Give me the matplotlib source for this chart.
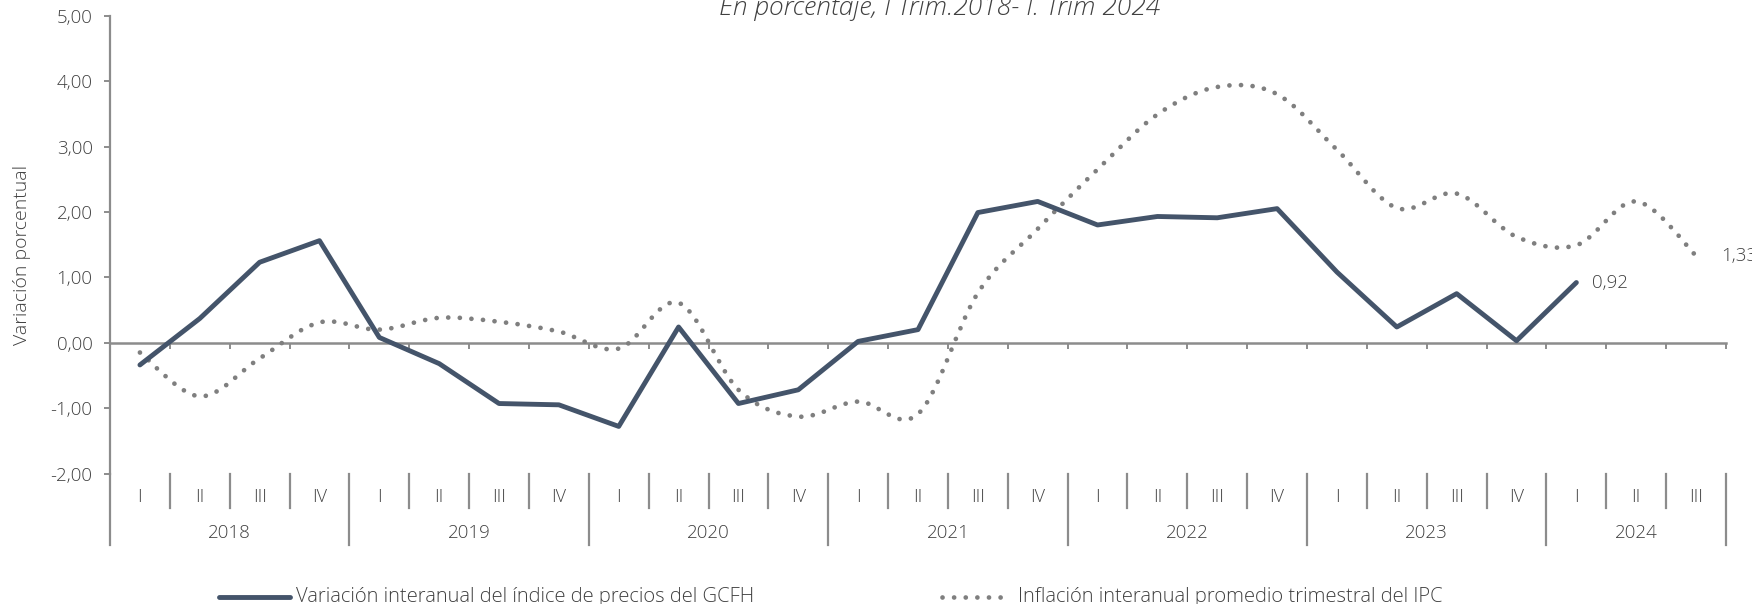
import matplotlib
matplotlib.use("Agg")
import matplotlib.pyplot as plt
import numpy as np
from matplotlib.path import Path
from matplotlib.patches import PathPatch
from matplotlib.lines import Line2D
import matplotlib.transforms as mtransforms
from matplotlib.ticker import FuncFormatter

plt.rcParams['font.family'] = ['Open Sans', 'DejaVu Sans']
plt.rcParams['font.weight'] = 'light'

quarters = ["I", "II", "III", "IV"] * 6 + ["I", "II", "III"]
years = ["2018", "2019", "2020", "2021", "2022", "2023", "2024"]
gcfh = [-0.34, 0.37, 1.23, 1.56, 0.08, -0.32, -0.93, -0.95,
        -1.28, 0.24, -0.93, -0.72, 0.02, 0.20, 1.99, 2.16,
        1.80, 1.93, 1.91, 2.05, 1.08, 0.24, 0.75, 0.03, 0.92]
ipc = [-0.15, -0.82, -0.24, 0.31, 0.20, 0.38, 0.32, 0.17,
       -0.09, 0.61, -0.72, -1.13, -0.90, -1.09, 0.76, 1.74,
       2.65, 3.49, 3.91, 3.80, 2.95, 2.06, 2.28, 1.62, 1.49, 2.16, 1.33]
label_gcfh = "Variación interanual del índice de precios del GCFH"
label_ipc = "Inflación interanual promedio trimestral del IPC"
title = "En porcentaje, I Trim.2018- I. Trim 2024"
ylabel = "Variación porcentual"

W, H = 1752, 604
fig = plt.figure(figsize=(W / 100, H / 100), dpi=100)
fig.patch.set_facecolor("white")

def fy(py):
    return 1 - py / H

def fx(px):
    return px / W

ax = fig.add_axes([fx(110), fy(473.5), fx(1726) - fx(110), fy(15.7) - fy(473.5)])
n = len(quarters)
ax.set_xlim(-0.5, n - 0.5)
ax.set_ylim(-2, 5)

C_SOLID = "#44546A"
C_DOT = "#7F7F7F"
C_AX = "#8C8C8C"
TXT = "#404040"

# solid line
xs = np.arange(len(gcfh))
ax.plot(xs, gcfh, color=C_SOLID, lw=3.5, solid_joinstyle="round",
        solid_capstyle="round", zorder=4, clip_on=False)

# smoothed dotted line (Bezier through data points)
xi = np.arange(len(ipc), dtype=float)
yi = np.array(ipc, dtype=float)
verts = [(xi[0], yi[0])]
codes = [Path.MOVETO]
m = len(xi)
for i in range(m - 1):
    p0 = np.array([xi[max(i - 1, 0)], yi[max(i - 1, 0)]])
    p1 = np.array([xi[i], yi[i]])
    p2 = np.array([xi[i + 1], yi[i + 1]])
    p3 = np.array([xi[min(i + 2, m - 1)], yi[min(i + 2, m - 1)]])
    c1 = p1 + (p2 - p0) / 6.0
    c2 = p2 - (p3 - p1) / 6.0
    verts += [tuple(c1), tuple(c2), tuple(p2)]
    codes += [Path.CURVE4] * 3
DOTSTYLE = (0, (0.01, 2.45))
patch = PathPatch(Path(verts, codes), fill=False, edgecolor=C_DOT, lw=3.4,
                  linestyle=DOTSTYLE, capstyle="round", zorder=3)
ax.add_patch(patch)

# data labels
ax.annotate("{:.2f}".format(gcfh[-1]).replace(".", ","), xy=(len(gcfh) - 1, gcfh[-1]),
            xytext=(16, 0), textcoords="offset pixels", ha="left", va="center",
            fontsize=13.5, color=TXT)
ax.annotate("{:.2f}".format(ipc[-1]).replace(".", ","), xy=(len(ipc) - 1, ipc[-1]),
            xytext=(25, 0), textcoords="offset pixels", ha="left", va="center",
            fontsize=13.5, color=TXT, annotation_clip=False)

# axes styling
for s in ["top", "right"]:
    ax.spines[s].set_visible(False)
ax.spines["left"].set_color(C_AX)
ax.spines["left"].set_linewidth(1.6)
ax.spines["bottom"].set_position(("data", 0))
ax.spines["bottom"].set_color(C_AX)
ax.spines["bottom"].set_linewidth(1.8)
ax.set_yticks(np.arange(-2, 6, 1))
ax.yaxis.set_major_formatter(FuncFormatter(lambda v, p: "{:.2f}".format(v).replace(".", ",")))
ax.tick_params(axis="y", length=4.5, width=1.4, color=C_AX, pad=8,
               labelsize=13.5, labelcolor=TXT)
ax.set_xticks(np.arange(-0.5, n, 1.0))
ax.set_xticklabels([])
ax.tick_params(axis="x", direction="out", length=4, width=1.4, color=C_AX)

# category labels and separators
trans = mtransforms.blended_transform_factory(ax.transData, fig.transFigure)
for i, q in enumerate(quarters):
    ax.text(i, fy(497), q, transform=trans, ha="center", va="center",
            fontsize=13, color=TXT)
for k in range(1, n):
    yb = 545 if k % 4 == 0 else 508
    ax.add_line(Line2D([k - 0.5, k - 0.5], [fy(473.5), fy(yb)], transform=trans,
                       color=C_AX, lw=1.6, clip_on=False))
ax.add_line(Line2D([-0.5, -0.5], [fy(473.5), fy(545)], transform=trans,
                   color=C_AX, lw=1.6, clip_on=False))
ax.add_line(Line2D([n - 0.5, n - 0.5], [fy(473.5), fy(545)], transform=trans,
                   color=C_AX, lw=1.6, clip_on=False))
for j, yr in enumerate(years):
    start = j * 4
    end = min(start + 4, n)
    ax.text((start + end - 1) / 2.0, fy(533), yr, transform=trans, ha="center",
            va="center", fontsize=13.5, color=TXT)

# y label
fig.text(fx(22), fy(255), ylabel, rotation=90, ha="center", va="center",
         fontsize=14, color=TXT)

# title (cut at top)
fig.text(fx(940), fy(15), title, ha="center", va="baseline", fontsize=19,
         style="italic", color=TXT)

# legend
fig.add_artist(Line2D([fx(219), fx(290)], [fy(597), fy(597)], color=C_SOLID, lw=3.5,
                      solid_capstyle="round"))
fig.text(fx(296), fy(597), label_gcfh, ha="left", va="center", fontsize=14.5, color=TXT)
fig.add_artist(Line2D([fx(942), fx(1011)], [fy(597), fy(597)], color=C_DOT, lw=3.4,
                      linestyle=DOTSTYLE, dash_capstyle="round"))
fig.text(fx(1018), fy(597), label_ipc, ha="left", va="center", fontsize=14.5, color=TXT)

fig.savefig("out.png", dpi=100, facecolor="white")
